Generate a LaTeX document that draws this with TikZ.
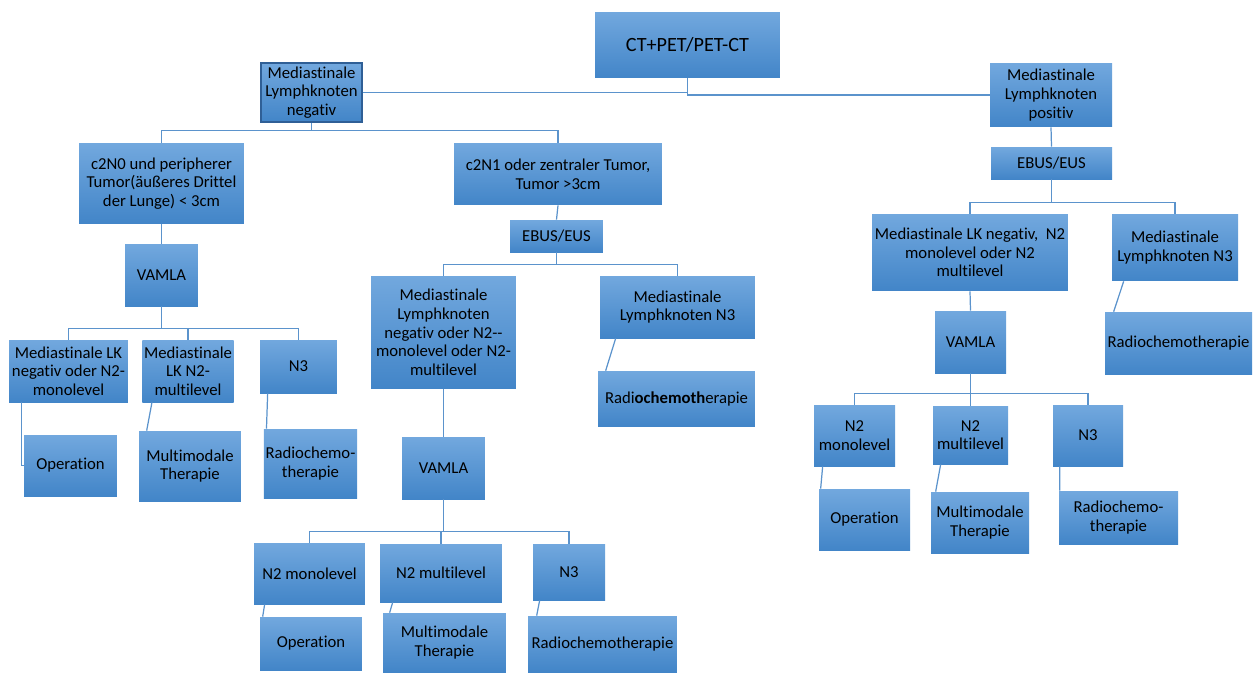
\documentclass[tikz,border=0pt]{standalone}
\usepackage{fontspec}
\setmainfont{Carlito}[Ligatures=NoCommon]
\definecolor{boxtop}{HTML}{72A8DE}
\definecolor{boxbot}{HTML}{4285C8}
\definecolor{linkcol}{HTML}{5B93CC}
\definecolor{frame}{HTML}{2F5F96}

\begin{document}
\begin{tikzpicture}[x=0.02cm,y=-0.02cm,
	box/.style={rectangle,top color=boxtop,bottom color=boxbot,draw=none,
		inner sep=1pt,align=center,text=black,font=\fontsize{9.5pt}{10.6pt}\selectfont},
	link/.style={draw=linkcol,line width=0.7pt}]
	\useasboundingbox (0,0) rectangle (1257,673);
	% top
	\node[box,minimum width=3.70cm,minimum height=1.32cm,font=\fontsize{11.5pt}{13pt}\selectfont] (ct) at (687.5,45) {CT+PET/PET-CT};
	\node[box,draw=frame,line width=0.9pt,minimum width=2.02cm,minimum height=1.18cm] (neg) at (311.5,92.5) {Mediastinale\\Lymphknoten\\negativ};
	\node[box,minimum width=2.44cm,minimum height=1.28cm] (pos) at (1051,95) {Mediastinale\\Lymphknoten\\positiv};
	% left branch
	\node[box,minimum width=3.30cm,minimum height=1.62cm] (c2n0) at (161.5,183.5) {c2N0 und peripherer\\Tumor(äußeres Drittel\\der Lunge) < 3cm};
	\node[box,minimum width=1.46cm,minimum height=1.24cm] (vamL) at (161.5,275) {VAMLA};
	\node[box,minimum width=2.38cm,minimum height=1.24cm] (lkL1) at (68.5,371) {Mediastinale LK\\negativ oder N2-\\monolevel};
	\node[box,minimum width=1.80cm,minimum height=1.24cm] (lkL2) at (188,371) {Mediastinale\\LK N2-\\multilevel};
	\node[box,minimum width=1.54cm,minimum height=1.06cm] (n3L) at (298.5,366.5) {N3};
	\node[box,minimum width=1.86cm,minimum height=1.22cm] (opL) at (70.5,465.5) {Operation};
	\node[box,minimum width=2.04cm,minimum height=1.40cm] (mmtL) at (190,466) {Multimodale\\Therapie};
	\node[box,minimum width=1.86cm,minimum height=1.38cm] (rctL) at (310.5,463.5) {Radiochemo-\\therapie};
	% middle branch
	\node[box,minimum width=4.16cm,minimum height=1.24cm] (c2n1) at (558,174) {c2N1 oder zentraler Tumor,\\Tumor >3cm};
	\node[box,minimum width=1.86cm,minimum height=0.64cm] (ebusM) at (556.5,236) {EBUS/EUS};
	\node[box,minimum width=2.90cm,minimum height=2.26cm] (lkM) at (443.5,332.5) {Mediastinale\\Lymphknoten\\negativ oder N2-{}-\\monolevel oder N2-\\multilevel};
	\node[box,minimum width=3.10cm,minimum height=1.24cm] (n3M) at (677.5,307) {Mediastinale\\Lymphknoten N3};
	\node[box,minimum width=3.14cm,minimum height=1.10cm] (rctM) at (676.5,398.5) {Radi\textbf{ochemoth}erapie};
	\node[box,minimum width=1.66cm,minimum height=1.24cm] (vamM) at (443.5,468) {VAMLA};
	\node[box,minimum width=2.22cm,minimum height=1.22cm] (n2monoM) at (309.5,573.5) {N2 monolevel};
	\node[box,minimum width=2.44cm,minimum height=1.16cm] (n2multM) at (441,573) {N2 multilevel};
	\node[box,minimum width=1.44cm,minimum height=1.12cm] (n3MM) at (569,572) {N3};
	\node[box,minimum width=2.04cm,minimum height=1.06cm] (opM) at (311,643.5) {Operation};
	\node[box,minimum width=2.46cm,minimum height=1.18cm] (mmtM) at (444.5,642.5) {Multimodale\\Therapie};
	\node[box,minimum width=2.98cm,minimum height=1.12cm] (rctMM) at (602.5,644) {Radiochemotherapie};
	% right branch
	\node[box,minimum width=2.42cm,minimum height=0.64cm] (ebusR) at (1051.5,163) {EBUS/EUS};
	\node[box,minimum width=3.92cm,minimum height=1.54cm] (lkR) at (970,252.5) {Mediastinale LK negativ,~~N2\\monolevel oder N2\\multilevel};
	\node[box,minimum width=2.52cm,minimum height=1.34cm] (n3R) at (1175,247.5) {Mediastinale\\Lymphknoten N3};
	\node[box,minimum width=1.42cm,minimum height=1.24cm] (vamR) at (970.5,342) {VAMLA};
	\node[box,minimum width=2.94cm,minimum height=1.24cm] (rctR) at (1178.5,343) {Radiochemotherapie};
	\node[box,minimum width=1.62cm,minimum height=1.22cm] (n2monoR) at (854.5,435.5) {N2\\monolevel};
	\node[box,minimum width=1.50cm,minimum height=1.16cm] (n2multR) at (970.5,435) {N2\\multilevel};
	\node[box,minimum width=1.40cm,minimum height=1.22cm] (n3RR) at (1088,435.5) {N3};
	\node[box,minimum width=1.82cm,minimum height=1.22cm] (opR) at (864.5,519.5) {Operation};
	\node[box,minimum width=1.96cm,minimum height=1.22cm] (mmtR) at (980,522.5) {Multimodale\\Therapie};
	\node[box,minimum width=2.38cm,minimum height=1.06cm] (rctR2) at (1118.5,517.5) {Radiochemo-\\therapie};

	% connectors
	\draw[link] (ct.south) |- (neg.east);
	\draw[link] (ct.south) |- (pos.west);
	\foreach \to in {c2n0,c2n1}
		\draw[link] (neg.south) -- ++(0,8) -| (\to.north);
	\draw[link] (c2n0.south) -- (vamL.north);
	\foreach \to in {lkL1,lkL2,n3L}
		\draw[link] (vamL.south) -- ++(0,22) -| (\to.north);
	\draw[link] ([xshift=0.26cm]lkL1.south west) |- (opL.west);
	\draw[link] ([xshift=0.20cm]lkL2.south west) -- ([xshift=0.16cm]mmtL.north west);
	\draw[link] ([xshift=0.16cm]n3L.south west) -- ([xshift=0.06cm]rctL.north west);
	\draw[link] (c2n1.south) -- (ebusM.north);
	\foreach \to in {lkM,n3M}
		\draw[link] (ebusM.south) -- ++(0,12) -| (\to.north);
	\draw[link] ([xshift=0.32cm]n3M.south west) -- ([xshift=0.16cm]rctM.north west);
	\draw[link] (lkM.south) -- (vamM.north);
	\foreach \to in {n2monoM,n2multM,n3MM}
		\draw[link] (vamM.south) -- ++(0,32) -| (\to.north);
	\draw[link] ([xshift=0.22cm]n2monoM.south west) -- ([xshift=0.06cm]opM.north west);
	\draw[link] ([xshift=0.26cm]n2multM.south west) -- ([xshift=0.14cm]mmtM.north west);
	\draw[link] ([xshift=0.14cm]n3MM.south west) -- ([xshift=0.18cm]rctMM.north west);
	\draw[link] (pos.south) -- (ebusR.north);
	\foreach \to in {lkR,n3R}
		\draw[link] (ebusR.south) -- ++(0,23) -| (\to.north);
	\draw[link] (lkR.south) -- (vamR.north);
	\draw[link] ([xshift=0.24cm]n3R.south west) -- ([xshift=0.18cm]rctR.north west);
	\foreach \to in {n2monoR,n2multR,n3RR}
		\draw[link] (vamR.south) -- ++(0,20) -| (\to.north);
	\draw[link] ([xshift=0.18cm]n2monoR.south west) -- ([xshift=0.04cm]opR.north west);
	\draw[link] ([xshift=0.16cm]n2multR.south west) -- ([xshift=0.10cm]mmtR.north west);
	\draw[link] ([xshift=0.14cm]n3RR.south west) -- ([xshift=0.02cm]rctR2.north west);
\end{tikzpicture}
\end{document}
